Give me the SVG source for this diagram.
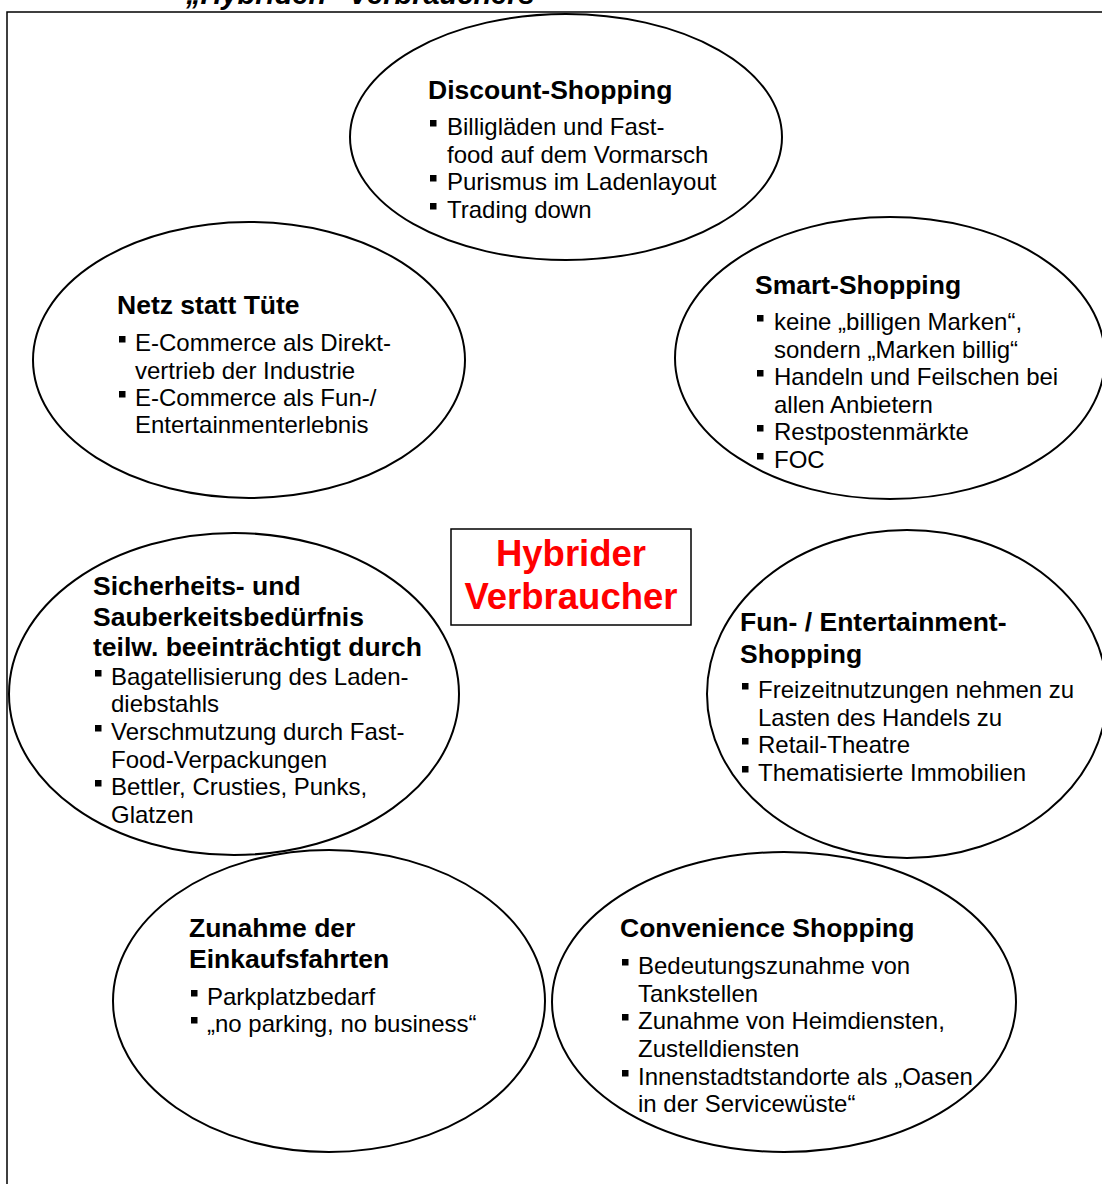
<svg xmlns="http://www.w3.org/2000/svg" width="1102" height="1184" viewBox="0 0 1102 1184">
<style>
.bg{fill:#fff}
.frame{fill:none;stroke:#000;stroke-width:1.5}
.ell{fill:none;stroke:#000;stroke-width:2}
.h{font-family:"Liberation Sans",Arial,sans-serif;font-weight:bold;font-size:26.5px;fill:#000}
.t{font-family:"Liberation Sans",Arial,sans-serif;font-size:24px;fill:#000}
.title{font-family:"Liberation Sans",Arial,sans-serif;font-weight:bold;font-style:italic;font-size:29px;fill:#000}
.center{font-family:"Liberation Sans",Arial,sans-serif;font-weight:bold;font-size:36.5px;fill:#ff0000;text-anchor:middle}
.b{fill:#000}
</style>
<defs>
<rect id="bul" width="6.5" height="6.5" class="b"/>
</defs>
<rect class="bg" x="0" y="0" width="1102" height="1184"/>
<text class="title" x="186" y="4">„Hybriden“ Verbrauchers</text>
<rect class="frame" x="7" y="12" width="1110" height="1200"/>
<g id="connectors"></g>
<g id="discount">
<ellipse class="ell" cx="566" cy="137" rx="216" ry="123"/>
<text class="h" x="428" y="99">Discount-Shopping</text>
<use href="#bul" x="430" y="120"/>
<text class="t" x="447" y="135">Billigläden und Fast-</text>
<text class="t" x="447" y="163">food auf dem Vormarsch</text>
<use href="#bul" x="430" y="175"/>
<text class="t" x="447" y="190">Purismus im Ladenlayout</text>
<use href="#bul" x="430" y="203"/>
<text class="t" x="447" y="218">Trading down</text>
</g>
<g id="smart">
<ellipse class="ell" cx="890" cy="358" rx="215" ry="141"/>
<text class="h" x="755" y="294">Smart-Shopping</text>
<use href="#bul" x="757" y="315"/>
<text class="t" x="774" y="330">keine „billigen Marken“,</text>
<text class="t" x="774" y="358">sondern „Marken billig“</text>
<use href="#bul" x="757" y="370"/>
<text class="t" x="774" y="385">Handeln und Feilschen bei</text>
<text class="t" x="774" y="413">allen Anbietern</text>
<use href="#bul" x="757" y="425"/>
<text class="t" x="774" y="440">Restpostenmärkte</text>
<use href="#bul" x="757" y="453"/>
<text class="t" x="774" y="468">FOC</text>
</g>
<g id="netz">
<ellipse class="ell" cx="249" cy="360" rx="216" ry="138"/>
<text class="h" x="117" y="314">Netz statt Tüte</text>
<use href="#bul" x="119" y="336"/>
<text class="t" x="135" y="351">E-Commerce als Direkt-</text>
<text class="t" x="135" y="379">vertrieb der Industrie</text>
<use href="#bul" x="119" y="391"/>
<text class="t" x="135" y="406">E-Commerce als Fun-/</text>
<text class="t" x="135" y="433">Entertainmenterlebnis</text>
</g>
<g id="sicherheit">
<ellipse class="ell" cx="234" cy="694" rx="225" ry="161"/>
<text class="h" x="93" y="595">Sicherheits- und</text>
<text class="h" x="93" y="626">Sauberkeitsbedürfnis</text>
<text class="h" x="93" y="656">teilw. beeinträchtigt durch</text>
<use href="#bul" x="95" y="670"/>
<text class="t" x="111" y="685">Bagatellisierung des Laden-</text>
<text class="t" x="111" y="712">diebstahls</text>
<use href="#bul" x="95" y="725"/>
<text class="t" x="111" y="740">Verschmutzung durch Fast-</text>
<text class="t" x="111" y="768">Food-Verpackungen</text>
<use href="#bul" x="95" y="780"/>
<text class="t" x="111" y="795">Bettler, Crusties, Punks,</text>
<text class="t" x="111" y="823">Glatzen</text>
</g>
<g id="fun">
<ellipse class="ell" cx="907" cy="694" rx="200" ry="164"/>
<text class="h" x="740" y="631">Fun- / Entertainment-</text>
<text class="h" x="740" y="663">Shopping</text>
<use href="#bul" x="742" y="683"/>
<text class="t" x="758" y="698">Freizeitnutzungen nehmen zu</text>
<text class="t" x="758" y="726">Lasten des Handels zu</text>
<use href="#bul" x="742" y="738"/>
<text class="t" x="758" y="753">Retail-Theatre</text>
<use href="#bul" x="742" y="766"/>
<text class="t" x="758" y="781">Thematisierte Immobilien</text>
</g>
<g id="zunahme">
<ellipse class="ell" cx="329" cy="1001" rx="216" ry="151"/>
<text class="h" x="189" y="937">Zunahme der</text>
<text class="h" x="189" y="968">Einkaufsfahrten</text>
<use href="#bul" x="191" y="990"/>
<text class="t" x="207" y="1005">Parkplatzbedarf</text>
<use href="#bul" x="191" y="1017"/>
<text class="t" x="207" y="1032">„no parking, no business“</text>
</g>
<g id="convenience">
<ellipse class="ell" cx="784" cy="1002" rx="232" ry="150"/>
<text class="h" x="620" y="937">Convenience Shopping</text>
<use href="#bul" x="622" y="959"/>
<text class="t" x="638" y="974">Bedeutungszunahme von</text>
<text class="t" x="638" y="1002">Tankstellen</text>
<use href="#bul" x="622" y="1014"/>
<text class="t" x="638" y="1029">Zunahme von Heimdiensten,</text>
<text class="t" x="638" y="1057">Zustelldiensten</text>
<use href="#bul" x="622" y="1070"/>
<text class="t" x="638" y="1085">Innenstadtstandorte als „Oasen</text>
<text class="t" x="638" y="1112">in der Servicewüste“</text>
</g>
<g id="hybrider">
<rect x="451" y="529" width="240" height="96" fill="#fff" stroke="#000" stroke-width="1.5"/>
<text class="center" x="571" y="566">Hybrider</text>
<text class="center" x="571" y="609">Verbraucher</text>
</g>
</svg>
